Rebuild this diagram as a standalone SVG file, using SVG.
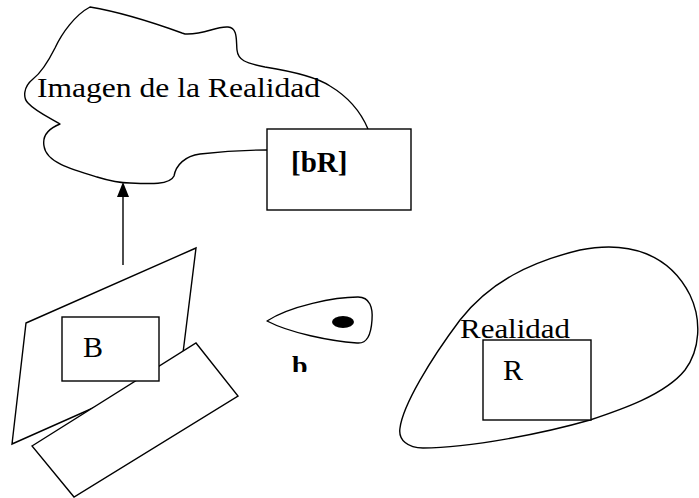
<svg xmlns="http://www.w3.org/2000/svg" width="699" height="498" viewBox="0 0 699 498">
<style>
.s{fill:none;stroke:#000;stroke-width:1.4;stroke-linejoin:round}
.w{fill:#fff;stroke:#000;stroke-width:1.4}
.t{font-family:"Liberation Serif","Times New Roman",serif;fill:#000}
</style>
<defs>
<clipPath id="bclip"><rect x="280" y="340" width="50" height="32"/></clipPath>
</defs>
<rect width="699" height="498" fill="#fff"/>
<g id="imagen">
<path class="s" d="M368,129 C360,110 345,95 330,86 C315,76 290,71 265,67 C245,63 238,60 237,50 C236,40 238,28 228,27 C215,26 205,35 185,34 L182,33 C160,25 120,12 90,7 C75,15 62,33 55,48 C48,62 42,72 33,79 C23,87 23,98 28,103 C35,111 50,118 60,124 C50,128 42,135 44,146 C46,162 70,169 97,177 C110,181 120,183 130,183 C150,184 170,185 174,176 C176,165 185,156 200,154 C225,151 250,150 267,150"/>
<text class="t" x="37" y="97" font-size="27" textLength="283" lengthAdjust="spacingAndGlyphs">Imagen de la Realidad</text>
</g>
<g id="bR">
<rect class="w" x="267" y="129" width="144" height="81"/>
<text class="t" x="291" y="172" font-size="29" font-weight="bold">[bR]</text>
</g>
<g id="sensor">
<polygon class="w" points="26,323 196,248 181,369 12,444"/>
<polygon class="w" points="32,446 196,343 238,396 74,497"/>
</g>
<g id="B">
<rect class="w" x="62" y="317" width="97" height="64"/>
<text class="t" x="83" y="357" font-size="30">B</text>
</g>
<g id="b">
<path class="s" d="M267,321 C290,306 335,297 358,297 C370,297 373,308 372,320 C371,335 367,344 357,343 C330,341 290,333 267,321 Z"/>
<ellipse cx="343" cy="322" rx="11" ry="6" fill="#000"/>
<text class="t" x="292" y="375" font-size="28" font-weight="bold" clip-path="url(#bclip)">b</text>
</g>
<g id="realidad">
<path class="s" d="M423,448 C408,448 398,440 400,428 C403,405 430,360 460,320 C490,282 530,262 580,250 C630,240 670,255 690,295 C702,320 700,350 685,370 C665,395 620,410 590,420 C545,433 470,448 423,448 Z"/>
<text class="t" x="460" y="338" font-size="27" textLength="110" lengthAdjust="spacingAndGlyphs">Realidad</text>
</g>
<g id="R">
<rect class="w" x="483" y="340" width="108" height="80"/>
<text class="t" x="503" y="380" font-size="30">R</text>
</g>
<g id="connectors">
<line class="s" x1="123" y1="265" x2="123" y2="195"/>
<polygon points="123,182 117,197 129,197" fill="#000"/>
</g>
</svg>
